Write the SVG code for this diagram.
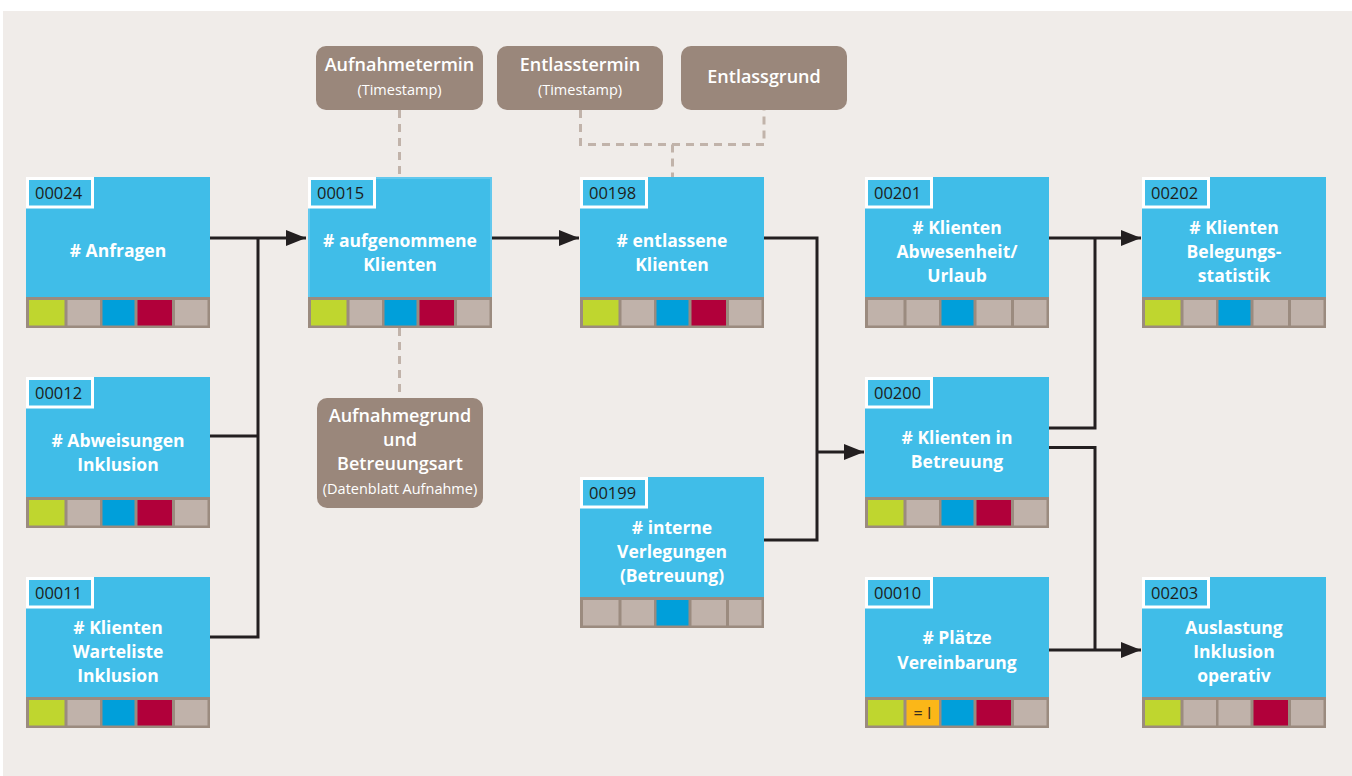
<svg xmlns="http://www.w3.org/2000/svg" width="1352" height="776" viewBox="0 0 1352 776">
<defs>
<style>
.node{fill:#40bde8}
.idb{fill:#40bde8;stroke:#ffffff;stroke-width:3}
.idt{font-family:"Open Sans","Liberation Sans",sans-serif;font-size:16.5px;fill:#1d1d1b}
.tt{font-family:"Open Sans","Liberation Sans",sans-serif;font-size:17.5px;font-weight:700;fill:#ffffff;text-anchor:middle}
.strip{fill:#9b8b7f}
.g{fill:#c0b2aa}
.l{fill:#bfd62f}
.b{fill:#009fda}
.r{fill:#b1003a}
.y{fill:#fbb718}
.bb{fill:#9a877b}
.bt{font-family:"Open Sans","Liberation Sans",sans-serif;font-size:18px;font-weight:600;fill:#ffffff;text-anchor:middle}
.bs{font-family:"Open Sans","Liberation Sans",sans-serif;font-size:14.5px;font-weight:400;fill:#ffffff;text-anchor:middle}
.conn{fill:none;stroke:#231f20;stroke-width:3}
.dash{fill:none;stroke:#c1b3aa;stroke-width:3;stroke-dasharray:8 6}
</style>
<marker id="arr" markerUnits="userSpaceOnUse" markerWidth="21" markerHeight="16" refX="20" refY="8" orient="auto">
<path d="M0,0 L20,8 L0,16 z" fill="#231f20"/>
</marker>
</defs>
<rect x="3" y="11" width="1349" height="765" fill="#f0ece9"/>

<g id="connectors">
<path class="dash" d="M399.5,110 V177"/>
<path class="dash" d="M399.5,328 V398"/>
<path class="dash" d="M580.5,110 V144.5 H764 V110"/>
<path class="dash" d="M672.5,144.5 V177"/>
<path class="conn" d="M210,238 H306" marker-end="url(#arr)"/>
<path class="conn" d="M210,436 H258 M210,637 H258 V238"/>
<path class="conn" d="M491,238 H579" marker-end="url(#arr)"/>
<path class="conn" d="M764,238 H817 V540 H764"/>
<path class="conn" d="M817,452 H864" marker-end="url(#arr)"/>
<path class="conn" d="M1049,238 H1141" marker-end="url(#arr)"/>
<path class="conn" d="M1049,428 H1095 V238"/>
<path class="conn" d="M1049,447.5 H1095 V650"/>
<path class="conn" d="M1049,650 H1141" marker-end="url(#arr)"/>
</g>

<g id="box-aufnahmetermin">
<rect class="bb" x="316" y="46" width="167" height="64" rx="10"/>
<text class="bt" x="399.5" y="71">Aufnahmetermin</text>
<text class="bs" x="399.5" y="95">(Timestamp)</text>
</g>
<g id="box-entlasstermin">
<rect class="bb" x="497" y="46" width="166" height="64" rx="10"/>
<text class="bt" x="580" y="71">Entlasstermin</text>
<text class="bs" x="580" y="95">(Timestamp)</text>
</g>
<g id="box-entlassgrund">
<rect class="bb" x="681" y="46" width="166" height="64" rx="10"/>
<text class="bt" x="764" y="83">Entlassgrund</text>
</g>
<g id="box-aufnahmegrund">
<rect class="bb" x="317" y="398" width="166" height="110" rx="10"/>
<text class="bt" x="400" y="422">Aufnahmegrund</text>
<text class="bt" x="400" y="446">und</text>
<text class="bt" x="400" y="470">Betreuungsart</text>
<text class="bs" x="400" y="494">(Datenblatt Aufnahme)</text>
</g>

<g id="n00024" transform="translate(26,177)">
<rect class="node" width="184" height="151"/>
<rect class="strip" y="120" width="184" height="31"/>
<rect class="l" x="3" y="123" width="35.5" height="25.5"/><rect class="g" x="41.5" y="123" width="32.5" height="25.5"/><rect class="b" x="76.5" y="123" width="32" height="25.5"/><rect class="r" x="111.5" y="123" width="34.5" height="25.5"/><rect class="g" x="149" y="123" width="32.5" height="25.5"/>
<rect class="idb" x="1.5" y="1.5" width="65" height="28.5"/>
<text class="idt" x="9" y="22">00024</text>
<text class="tt" x="92" y="80"># Anfragen</text>
</g>

<g id="n00015" transform="translate(308,177)">
<rect class="node" width="184" height="151"/>
<rect x="1" y="1" width="182" height="120" fill="none" stroke="#62c8ee" stroke-width="2"/>
<rect class="strip" y="120" width="184" height="31"/>
<rect class="l" x="3" y="123" width="35.5" height="25.5"/><rect class="g" x="41.5" y="123" width="32.5" height="25.5"/><rect class="b" x="76.5" y="123" width="32" height="25.5"/><rect class="r" x="111.5" y="123" width="34.5" height="25.5"/><rect class="g" x="149" y="123" width="32.5" height="25.5"/>
<rect class="idb" x="1.5" y="1.5" width="65" height="28.5"/>
<text class="idt" x="9" y="22">00015</text>
<text class="tt" x="92" y="70"># aufgenommene</text>
<text class="tt" x="92" y="94">Klienten</text>
</g>

<g id="n00198" transform="translate(580,177)">
<rect class="node" width="184" height="151"/>
<rect class="strip" y="120" width="184" height="31"/>
<rect class="l" x="3" y="123" width="35.5" height="25.5"/><rect class="g" x="41.5" y="123" width="32.5" height="25.5"/><rect class="b" x="76.5" y="123" width="32" height="25.5"/><rect class="r" x="111.5" y="123" width="34.5" height="25.5"/><rect class="g" x="149" y="123" width="32.5" height="25.5"/>
<rect class="idb" x="1.5" y="1.5" width="65" height="28.5"/>
<text class="idt" x="9" y="22">00198</text>
<text class="tt" x="92" y="70"># entlassene</text>
<text class="tt" x="92" y="94">Klienten</text>
</g>

<g id="n00201" transform="translate(865,177)">
<rect class="node" width="184" height="151"/>
<rect class="strip" y="120" width="184" height="31"/>
<rect class="g" x="3" y="123" width="35.5" height="25.5"/><rect class="g" x="41.5" y="123" width="32.5" height="25.5"/><rect class="b" x="76.5" y="123" width="32" height="25.5"/><rect class="g" x="111.5" y="123" width="34.5" height="25.5"/><rect class="g" x="149" y="123" width="32.5" height="25.5"/>
<rect class="idb" x="1.5" y="1.5" width="65" height="28.5"/>
<text class="idt" x="9" y="22">00201</text>
<text class="tt" x="92" y="57"># Klienten</text>
<text class="tt" x="92" y="81">Abwesenheit/</text>
<text class="tt" x="92" y="105">Urlaub</text>
</g>

<g id="n00202" transform="translate(1142,177)">
<rect class="node" width="184" height="151"/>
<rect class="strip" y="120" width="184" height="31"/>
<rect class="l" x="3" y="123" width="35.5" height="25.5"/><rect class="g" x="41.5" y="123" width="32.5" height="25.5"/><rect class="b" x="76.5" y="123" width="32" height="25.5"/><rect class="g" x="111.5" y="123" width="34.5" height="25.5"/><rect class="g" x="149" y="123" width="32.5" height="25.5"/>
<rect class="idb" x="1.5" y="1.5" width="65" height="28.5"/>
<text class="idt" x="9" y="22">00202</text>
<text class="tt" x="92" y="57"># Klienten</text>
<text class="tt" x="92" y="81">Belegungs-</text>
<text class="tt" x="92" y="105">statistik</text>
</g>

<g id="n00012" transform="translate(26,377)">
<rect class="node" width="184" height="151"/>
<rect class="strip" y="120" width="184" height="31"/>
<rect class="l" x="3" y="123" width="35.5" height="25.5"/><rect class="g" x="41.5" y="123" width="32.5" height="25.5"/><rect class="b" x="76.5" y="123" width="32" height="25.5"/><rect class="r" x="111.5" y="123" width="34.5" height="25.5"/><rect class="g" x="149" y="123" width="32.5" height="25.5"/>
<rect class="idb" x="1.5" y="1.5" width="65" height="28.5"/>
<text class="idt" x="9" y="22">00012</text>
<text class="tt" x="92" y="70"># Abweisungen</text>
<text class="tt" x="92" y="94">Inklusion</text>
</g>

<g id="n00200" transform="translate(865,377)">
<rect class="node" width="184" height="151"/>
<rect class="strip" y="120" width="184" height="31"/>
<rect class="l" x="3" y="123" width="35.5" height="25.5"/><rect class="g" x="41.5" y="123" width="32.5" height="25.5"/><rect class="b" x="76.5" y="123" width="32" height="25.5"/><rect class="r" x="111.5" y="123" width="34.5" height="25.5"/><rect class="g" x="149" y="123" width="32.5" height="25.5"/>
<rect class="idb" x="1.5" y="1.5" width="65" height="28.5"/>
<text class="idt" x="9" y="22">00200</text>
<text class="tt" x="92" y="67"># Klienten in</text>
<text class="tt" x="92" y="91">Betreuung</text>
</g>

<g id="n00199" transform="translate(580,477)">
<rect class="node" width="184" height="151"/>
<rect class="strip" y="120" width="184" height="31"/>
<rect class="g" x="3" y="123" width="35.5" height="25.5"/><rect class="g" x="41.5" y="123" width="32.5" height="25.5"/><rect class="b" x="76.5" y="123" width="32" height="25.5"/><rect class="g" x="111.5" y="123" width="34.5" height="25.5"/><rect class="g" x="149" y="123" width="32.5" height="25.5"/>
<rect class="idb" x="1.5" y="1.5" width="65" height="28.5"/>
<text class="idt" x="9" y="22">00199</text>
<text class="tt" x="92" y="57"># interne</text>
<text class="tt" x="92" y="81">Verlegungen</text>
<text class="tt" x="92" y="105">(Betreuung)</text>
</g>

<g id="n00011" transform="translate(26,577)">
<rect class="node" width="184" height="151"/>
<rect class="strip" y="120" width="184" height="31"/>
<rect class="l" x="3" y="123" width="35.5" height="25.5"/><rect class="g" x="41.5" y="123" width="32.5" height="25.5"/><rect class="b" x="76.5" y="123" width="32" height="25.5"/><rect class="r" x="111.5" y="123" width="34.5" height="25.5"/><rect class="g" x="149" y="123" width="32.5" height="25.5"/>
<rect class="idb" x="1.5" y="1.5" width="65" height="28.5"/>
<text class="idt" x="9" y="22">00011</text>
<text class="tt" x="92" y="57"># Klienten</text>
<text class="tt" x="92" y="81">Warteliste</text>
<text class="tt" x="92" y="105">Inklusion</text>
</g>

<g id="n00010" transform="translate(865,577)">
<rect class="node" width="184" height="151"/>
<rect class="strip" y="120" width="184" height="31"/>
<rect class="l" x="3" y="123" width="35.5" height="25.5"/><rect class="y" x="41.5" y="123" width="32.5" height="25.5"/><rect class="b" x="76.5" y="123" width="32" height="25.5"/><rect class="r" x="111.5" y="123" width="34.5" height="25.5"/><rect class="g" x="149" y="123" width="32.5" height="25.5"/>
<text x="57.5" y="142" text-anchor="middle" style="font-family:'Open Sans','Liberation Sans',sans-serif;font-size:16px;font-weight:400;fill:#3a2e1e">= I</text>
<rect class="idb" x="1.5" y="1.5" width="65" height="28.5"/>
<text class="idt" x="9" y="22">00010</text>
<text class="tt" x="92" y="67"># Plätze</text>
<text class="tt" x="92" y="92">Vereinbarung</text>
</g>

<g id="n00203" transform="translate(1142,577)">
<rect class="node" width="184" height="151"/>
<rect class="strip" y="120" width="184" height="31"/>
<rect class="l" x="3" y="123" width="35.5" height="25.5"/><rect class="g" x="41.5" y="123" width="32.5" height="25.5"/><rect class="g" x="76.5" y="123" width="32" height="25.5"/><rect class="r" x="111.5" y="123" width="34.5" height="25.5"/><rect class="g" x="149" y="123" width="32.5" height="25.5"/>
<rect class="idb" x="1.5" y="1.5" width="65" height="28.5"/>
<text class="idt" x="9" y="22">00203</text>
<text class="tt" x="92" y="57">Auslastung</text>
<text class="tt" x="92" y="81">Inklusion</text>
<text class="tt" x="92" y="105">operativ</text>
</g>
</svg>
